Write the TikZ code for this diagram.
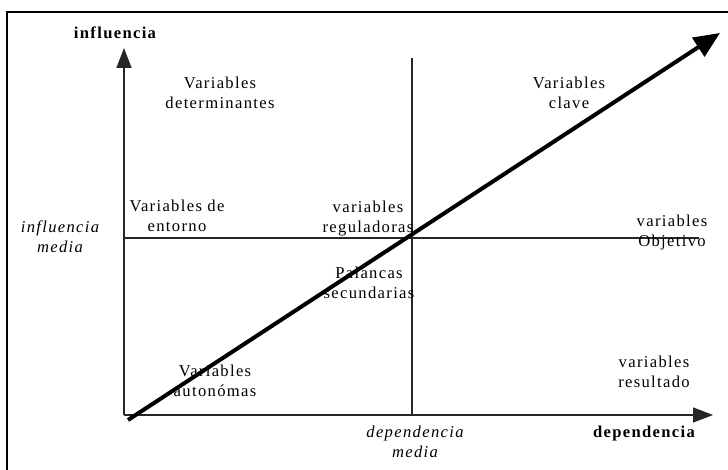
\documentclass[tikz,border=0pt]{standalone}
\usepackage{fontspec}
\setmainfont{Liberation Serif}[LetterSpace=8]
\usetikzlibrary{arrows.meta}
\begin{document}
\begin{tikzpicture}[x=0.5pt,y=-0.5pt,
  lbl/.style={align=center,inner sep=0pt,font=\fontsize{8.3}{10}\selectfont},
  axe/.style={line width=0.65pt,draw=black!85},
  fleche/.style={-{Triangle[length=10pt,width=7.5pt]}}]
  \useasboundingbox (0,0) rectangle (728,470);
  \draw[line width=1.1pt] (7,470) -- (7,12) -- (728,12);
  % ejes
  \coordinate (O) at (124,415);
  \coordinate (ytop) at (124,48);
  \coordinate (xend) at (713,415);
  \coordinate (vtop) at (412,58);
  \coordinate (vbot) at (412,415);
  \coordinate (hizq) at (124,238);
  \coordinate (hder) at (699,238);
  \draw[axe,fleche] (O) -- (ytop);
  \draw[axe,fleche] (O) -- (xend);
  \draw[axe] (vtop) -- (vbot);
  \draw[axe] (hizq) -- (hder);
  % diagonal
  \coordinate (dini) at (128,420);
  \coordinate (dfin) at (720,33);
  \draw[line width=2pt,-{Triangle[length=13pt,width=11pt]}] (dini) -- (dfin);
  % textos
  \node[lbl,font=\fontsize{8.3}{10}\selectfont\bfseries] (infl) at (115,33) {influencia};
  \node[lbl,font=\fontsize{8.3}{10}\selectfont\bfseries] (dep) at (644,434) {dependencia};
  \node[lbl,font=\fontsize{8.3}{10}\selectfont\itshape] (inflmed) at (60,237) {influencia\\media};
  \node[lbl,font=\fontsize{8.3}{10}\selectfont\itshape] (depmed) at (415,442) {dependencia\\media};
  \node[lbl] (determ) at (220,93) {Variables\\determinantes};
  \node[lbl] (clave) at (569,93) {Variables\\clave};
  \node[lbl] (entorno) at (177,216) {Variables de\\entorno};
  \node[lbl] (regul) at (368,219) {variables\\reguladoras};
  \node[lbl] (objet) at (672,233) {variables\\Objetivo};
  \node[lbl] (palanc) at (369,283) {Palancas\\secundarias};
  \node[lbl] (auton) at (215,381) {Variables\\autonómas};
  \node[lbl] (result) at (654,372) {variables\\resultado};
\end{tikzpicture}
\end{document}
